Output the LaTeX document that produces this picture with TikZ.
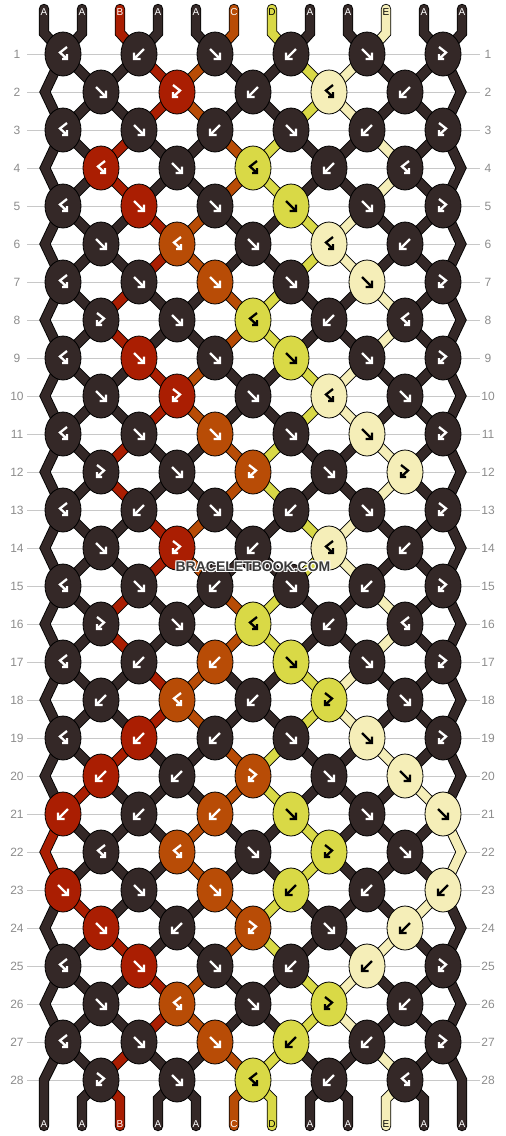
\documentclass[tikz,border=0pt]{standalone}
\usepackage{fontspec}
\setmainfont{Liberation Sans}
\setsansfont{Liberation Sans}
\usetikzlibrary{shapes.geometric}
\definecolor{colA}{RGB}{52,40,39}
\definecolor{colB}{RGB}{170,30,2}
\definecolor{colC}{RGB}{184,76,6}
\definecolor{colD}{RGB}{217,217,70}
\definecolor{colE}{RGB}{245,238,184}
\colorlet{gA}{white}
\colorlet{gB}{white}
\colorlet{gC}{white}
\colorlet{gD}{black}
\colorlet{gE}{black}
\definecolor{gridgray}{RGB}{200,200,200}
\definecolor{numgray}{RGB}{140,140,140}
\definecolor{wmgray}{RGB}{58,58,58}
\pgfdeclarelayer{grid}
\pgfdeclarelayer{outline}
\pgfdeclarelayer{strand}
\pgfsetlayers{grid,outline,strand,main}
\tikzset{
 knot/.style={ellipse,draw=black,line width=0.8pt,minimum width=36pt,minimum height=44pt,inner sep=0pt,outer sep=0pt},
 segout/.style={draw=black,line width=10.4pt,line cap=round,line join=miter},
 segin/.style={draw=col#1,line width=8.6pt,line cap=round,line join=miter},
 glyph/.style={line width=2.3pt,line cap=butt,line join=miter},
 rowline/.style={draw=gridgray,line width=1pt},
 rownum/.style={text=numgray,font=\fontsize{12}{12}\selectfont,inner sep=0pt},
 strlbl/.style={font=\fontsize{10}{10}\selectfont,inner sep=0pt,text=g#1},
 wm/.style={font=\bfseries\fontsize{14}{14}\selectfont,inner sep=0pt},
}
\newcommand\glyphF[2]{\draw[glyph,draw=#2,shift={(#1.center)}] (-5,-5) -- (5,5) (5,-1.5) -- (5,5) -- (-1.5,5);}
\newcommand\glyphB[2]{\draw[glyph,draw=#2,shift={(#1.center)}] (5,-5) -- (-5,5) (-5,-1.5) -- (-5,5) -- (1.5,5);}
\newcommand\glyphf[2]{\draw[glyph,draw=#2,shift={(#1.center)}] (-4,-7) -- (3,-1.5) -- (-4,5) (-4,0) -- (-4,5) -- (1,5);}
\newcommand\glyphb[2]{\draw[glyph,draw=#2,shift={(#1.center)}] (4,-7) -- (-3,-1.5) -- (4,5) (4,0) -- (4,5) -- (-1,5);}
\newcommand\strandpass[1]{%
 \foreach \r/\s in {1/{A,A,A,B,C,A,A,D,E,A,A,A},2/{A,A,A,B,C,A,A,D,E,A,A,A},
  3/{A,A,B,A,A,C,D,A,A,E,A,A},4/{A,A,B,A,A,C,D,A,A,E,A,A},
  5/{A,A,A,B,C,A,A,D,E,A,A,A},6/{A,A,A,B,C,A,A,D,E,A,A,A},
  7/{A,A,B,A,A,C,D,A,A,E,A,A},8/{A,A,B,A,A,C,D,A,A,E,A,A},
  9/{A,A,A,B,C,A,A,D,E,A,A,A},10/{A,A,A,B,C,A,A,D,E,A,A,A},
  11/{A,A,B,A,A,C,D,A,A,E,A,A},12/{A,A,B,A,A,C,D,A,A,E,A,A},
  13/{A,A,A,B,C,A,A,D,E,A,A,A},14/{A,A,A,B,C,A,A,D,E,A,A,A},
  15/{A,A,B,A,A,C,D,A,A,E,A,A},16/{A,A,B,A,A,C,D,A,A,E,A,A},
  17/{A,A,A,B,C,A,A,D,E,A,A,A},18/{A,A,A,B,C,A,A,D,E,A,A,A},
  19/{A,A,B,A,A,C,D,A,A,E,A,A},20/{A,B,A,A,A,C,D,A,A,A,E,A},
  21/{B,A,A,A,C,A,A,D,A,A,A,E},22/{B,A,A,A,C,A,A,D,A,A,A,E},
  23/{A,B,A,A,A,C,D,A,A,A,E,A},24/{A,A,B,A,A,C,D,A,A,E,A,A},
  25/{A,A,A,B,C,A,A,D,E,A,A,A},26/{A,A,A,B,C,A,A,D,E,A,A,A},
  27/{A,A,B,A,A,C,D,A,A,E,A,A}}{%
  \pgfmathtruncatemacro\rr{\r+1}%
  \pgfmathtruncatemacro\rrr{\r+2}%
  \foreach \c [count=\p] in \s {%
   \pgfmathtruncatemacro\io{ceil(\p/2)}%
   \pgfmathtruncatemacro\ie{floor(\p/2)}%
   \ifnum\p=1\relax
     \ifodd\r\relax\ifnum\r<27\relax \draw[#1=\c] (k\r-1.center) -- (el\rr) -- (k\rrr-1.center);\fi\fi
   \else\ifnum\p=12\relax
     \ifodd\r\relax\ifnum\r<27\relax \draw[#1=\c] (k\r-6.center) -- (er\rr) -- (k\rrr-6.center);\fi\fi
   \else
     \ifodd\r\relax \draw[#1=\c] (k\r-\io.center) -- (k\rr-\ie.center);
     \else \draw[#1=\c] (k\r-\ie.center) -- (k\rr-\io.center);\fi
   \fi\fi
  }%
 }%
}
\newcommand\tipstrands[1]{%
 \foreach \c [count=\p] in {A,A,B,A,A,C,D,A,A,E,A,A}{%
  \pgfmathtruncatemacro\io{ceil(\p/2)}%
  \pgfmathtruncatemacro\ie{floor(\p/2)}%
  \draw[#1=\c] (ts\p) -- (tb\p) -- (k1-\io.center);
  \ifnum\p=1\relax \draw[#1=\c] (k27-1.center) -- (bb\p) -- (bs\p);
  \else\ifnum\p=12\relax \draw[#1=\c] (k27-6.center) -- (bb\p) -- (bs\p);
  \else \draw[#1=\c] (k28-\ie.center) -- (bb\p) -- (bs\p);\fi\fi
 }%
}
\begin{document}
\begin{tikzpicture}[x=1pt,y=-1pt]
\useasboundingbox (0,0) rectangle (506,1136);
% row lines and numbers
\foreach \r in {1,...,28}{
  \pgfmathsetmacro\yy{54+38*(\r-1)}
  \begin{pgfonlayer}{grid}
  \draw[rowline] (27,\yy) -- (480,\yy);
  \end{pgfonlayer}
  \node[rownum] (nl\r) at (17,\yy) {\r};
  \node[rownum] (nr\r) at (488,\yy) {\r};
}
% edge vertices
\foreach \r in {2,4,...,28}{
  \pgfmathsetmacro\yy{54+38*(\r-1)}
  \coordinate (el\r) at (45,\yy);
  \coordinate (er\r) at (461,\yy);
}
% strand ends
\foreach \c [count=\p] in {A,A,B,A,A,C,D,A,A,E,A,A}{
  \pgfmathsetmacro\xp{44+38*(\p-1)}
  \coordinate (ts\p) at (\xp,9);
  \coordinate (tb\p) at (\xp,33);
  \coordinate (bs\p) at (\xp,1126);
  \ifnum\p=1\relax \coordinate (bb\p) at (\xp,1080);
  \else\ifnum\p=12\relax \coordinate (bb\p) at (\xp,1080);
  \else \coordinate (bb\p) at (\xp,1099);\fi\fi
}
% knots
\foreach \r/\ks in {
 1/{b/A,B/A,F/A,B/A,F/A,f/A},
 2/{F/A,f/B,B/A,b/E,B/A},
 3/{b/A,F/A,B/A,F/A,B/A,f/A},
 4/{b/B,F/A,b/D,B/A,b/A},
 5/{b/A,F/B,F/A,F/D,F/A,f/A},
 6/{F/A,b/C,F/A,b/E,B/A},
 7/{b/A,F/A,F/C,F/A,F/E,f/A},
 8/{f/A,F/A,b/D,B/A,b/A},
 9/{b/A,F/B,F/A,F/D,F/A,f/A},
 10/{F/A,f/B,F/A,b/E,F/A},
 11/{b/A,F/A,F/C,F/A,F/E,f/A},
 12/{f/A,F/A,f/C,F/A,f/E},
 13/{b/A,B/A,F/A,B/A,F/A,f/A},
 14/{F/A,f/B,B/A,b/E,B/A},
 15/{b/A,F/A,B/A,F/A,B/A,f/A},
 16/{f/A,F/A,b/D,B/A,b/A},
 17/{b/A,B/A,B/C,F/D,F/A,f/A},
 18/{B/A,b/C,B/A,f/D,F/A},
 19/{b/A,B/B,B/A,F/A,F/E,f/A},
 20/{B/B,B/A,f/C,F/A,F/E},
 21/{B/B,B/A,B/C,F/D,F/A,F/E},
 22/{b/A,b/C,F/A,f/D,F/A},
 23/{F/B,F/A,F/C,B/D,B/A,B/E},
 24/{F/B,B/A,f/C,F/A,B/E},
 25/{b/A,F/B,F/A,B/A,B/E,f/A},
 26/{F/A,b/C,F/A,f/D,B/A},
 27/{b/A,F/A,F/C,B/D,B/A,f/A},
 28/{f/A,F/A,b/D,B/A,b/A}}{
  \pgfmathsetmacro\yy{54+38*(\r-1)}
  \ifodd\r\relax \def\xz{63}\else \def\xz{101}\fi
  \foreach \t/\c [count=\i] in \ks {
    \pgfmathsetmacro\xx{\xz+76*(\i-1)}
    \node[knot,fill=col\c] (k\r-\i) at (\xx,\yy) {};
    \csname glyph\t\endcsname{k\r-\i}{g\c}
  }
}
% strands
\begin{pgfonlayer}{outline}
\strandpass{segout}
\tipstrands{segout}
\end{pgfonlayer}
\begin{pgfonlayer}{strand}
\strandpass{segin}
\tipstrands{segin}
\end{pgfonlayer}
% strand labels
\foreach \c [count=\p] in {A,A,B,A,A,C,D,A,A,E,A,A}{
  \pgfmathsetmacro\xp{44+38*(\p-1)}
  \node[strlbl=\c] (lt\p) at (\xp,12.5) {\c};
  \node[strlbl=\c] (lb\p) at (\xp,1124) {\c};
}
% watermark
\foreach \dx/\dy in {-0.9/-0.9,0.9/-0.9,-0.9/0.9,0.9/0.9}{
  \node[wm,text=white] at (253+\dx,567+\dy) {BRACELETBOOK.COM};
}
\node[wm,text=wmgray] (wm) at (253,567) {BRACELETBOOK.COM};
\end{tikzpicture}
\end{document}
